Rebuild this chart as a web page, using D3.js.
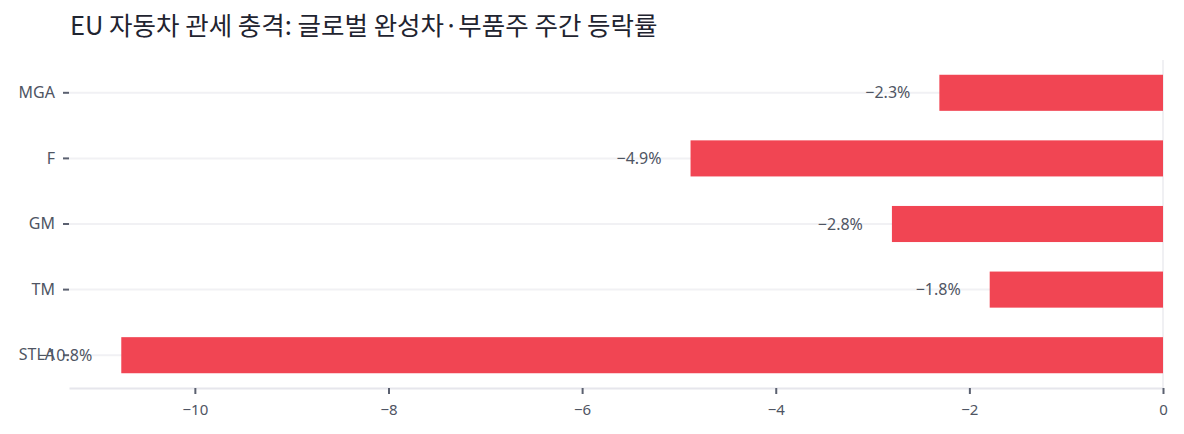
<!DOCTYPE html>
<html>
<head>
<meta charset="utf-8">
<script src="https://cdn.jsdelivr.net/npm/d3@7"></script>
<style>
  body { margin: 0; background: #fff; }
  svg { display: block; }
</style>
</head>
<body>
<div id="chart"></div>
<script>
// tickers, top to bottom
const tickers = ["MGA", "F", "GM", "TM", "STLA"];
// weekly change, percent
const changes = [-2.31, -4.88, -2.8, -1.79, -10.76];
// x ticks
const xTicks = [-10, -8, -6, -4, -2, 0];

const title = "EU 자동차 관세 충격: 글로벌 완성차·부품주 주간 등락률";

const width = 1184;
const height = 434;
const margin = { top: 60, right: 21, bottom: 46, left: 69 };

const svg = d3
  .select("#chart")
  .append("svg")
  .attr("width", width)
  .attr("height", height);

// scales
const x = d3
  .scaleLinear()
  .domain([-11.3, 0])
  .range([margin.left, width - margin.right]);

const y = d3
  .scaleBand()
  .domain(tickers)
  .range([margin.top, height - margin.bottom])
  .paddingInner(0.45)
  .paddingOuter(0.225);

const fontLatin = "'Noto Sans', 'Open Sans', sans-serif";
const textColor = "#4f5563";

// horizontal gridlines at each category
svg
  .append("g")
  .selectAll("line")
  .data(tickers)
  .join("line")
  .attr("x1", margin.left)
  .attr("x2", width - margin.right)
  .attr("y1", (d) => y(d) + y.bandwidth() / 2)
  .attr("y2", (d) => y(d) + y.bandwidth() / 2)
  .attr("stroke", "#f1f1f4")
  .attr("stroke-width", 2);

// zero line
svg
  .append("line")
  .attr("x1", x(0))
  .attr("x2", x(0))
  .attr("y1", margin.top)
  .attr("y2", height - margin.bottom)
  .attr("stroke", "#ebebef")
  .attr("stroke-width", 1.5);

// bars
svg
  .append("g")
  .selectAll("rect")
  .data(tickers)
  .join("rect")
  .attr("x", (d, i) => x(changes[i]))
  .attr("y", (d) => y(d))
  .attr("width", (d, i) => x(0) - x(changes[i]))
  .attr("height", y.bandwidth())
  .attr("fill", "#f14553");

// x axis
const xAxis = svg
  .append("g")
  .attr("transform", "translate(0," + (height - margin.bottom) + ")")
  .call(
    d3
      .axisBottom(x)
      .tickValues(xTicks)
      .tickSize(6)
      .tickSizeOuter(0)
      .tickFormat((d) => (d < 0 ? "\u2212" + Math.abs(d) : d))
  );
xAxis.select(".domain").attr("stroke", "#e6e6ec").attr("stroke-width", 2);
xAxis.selectAll(".tick line").attr("stroke", "#5b6170").attr("stroke-width", 2);
xAxis
  .selectAll(".tick text")
  .attr("dy", "1.2em")
  .attr("fill", textColor)
  .style("font-family", fontLatin)
  .style("font-size", "15px");

// y axis
const yAxis = svg
  .append("g")
  .attr("transform", "translate(" + margin.left + ",0)")
  .call(d3.axisLeft(y).tickSize(6).tickPadding(8));
yAxis.select(".domain").remove();
yAxis.selectAll(".tick line").attr("stroke", "#5b6170").attr("stroke-width", 2);
yAxis
  .selectAll(".tick text")
  .attr("fill", textColor)
  .style("font-family", fontLatin)
  .style("font-size", "16px");

// value labels outside bar ends
svg
  .append("g")
  .selectAll("text")
  .data(tickers)
  .join("text")
  .attr("x", (d, i) => x(changes[i]) - 29)
  .attr("y", (d) => y(d) + y.bandwidth() / 2)
  .attr("dy", "0.35em")
  .attr("text-anchor", "end")
  .attr("fill", textColor)
  .style("font-family", fontLatin)
  .style("font-size", "16px")
  .text((d, i) => "\u2212" + Math.abs(changes[i]).toFixed(1) + "%");

// title
svg
  .append("text")
  .attr("x", 70)
  .attr("y", 35)
  .attr("fill", "#1f2430")
  .style("font-family", "'Noto Sans CJK KR', sans-serif")
  .style("font-size", "25.5px")
  .text(title);
</script>
</body>
</html>
